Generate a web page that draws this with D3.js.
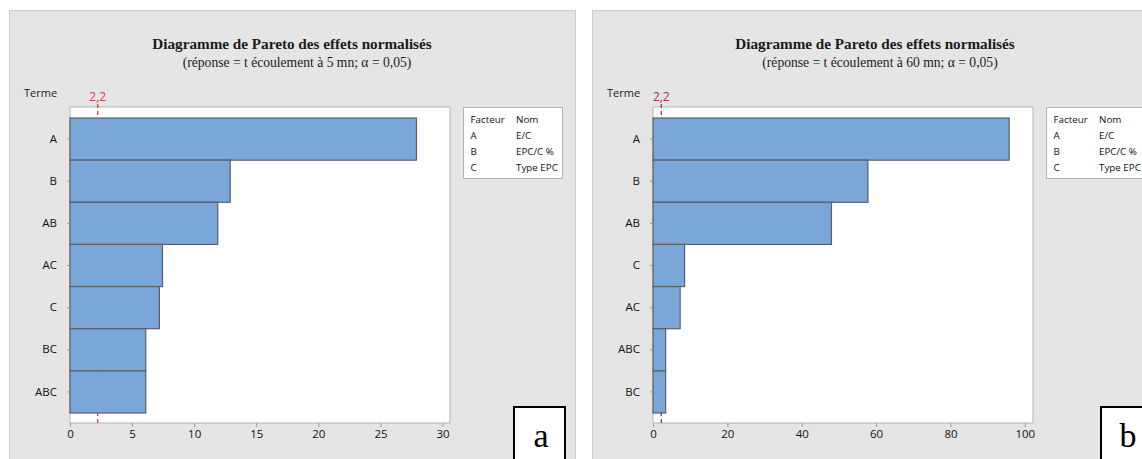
<!DOCTYPE html>
<html>
<head>
<meta charset="utf-8">
<title>Diagramme de Pareto des effets normalisés</title>
<script src="https://d3js.org/d3.v7.min.js"></script>
<style>
  body { margin: 0; background: #fff; }
  svg { display: block; }
</style>
</head>
<body>
<svg width="1142" height="459"></svg>
<script>
const termsA = ["A", "B", "AB", "AC", "C", "BC", "ABC"];
const effectsA = [27.9, 12.9, 11.9, 7.45, 7.2, 6.1, 6.1];
const ticksA = [0, 5, 10, 15, 20, 25, 30];

const termsB = ["A", "B", "AB", "C", "AC", "ABC", "BC"];
const effectsB = [95.8, 57.8, 48.0, 8.5, 7.3, 3.4, 3.4];
const ticksB = [0, 20, 40, 60, 80, 100];

const critical = 2.23;
const criticalLabel = "2,2";

const factorCodes = ["A", "B", "C"];
const factorNames = ["E/C", "EPC/C %", "Type EPC"];

const title = "Diagramme de Pareto des effets normalisés";
const subtitles = [
  "(réponse = t écoulement à 5 mn; α = 0,05)",
  "(réponse = t écoulement à 60 mn; α = 0,05)"
];
const letters = ["a", "b"];

const svg = d3.select("svg");
const sans = "'Open Sans', 'Noto Sans', sans-serif";
const serif = "'Liberation Serif', 'DejaVu Serif', serif";

const panels = [
  { dx: 0, terms: termsA, values: effectsA, ticks: ticksA, max: 30.6, refColor: "#d8403f", boxX: 514 },
  { dx: 583, terms: termsB, values: effectsB, ticks: ticksB, max: 102.2, refColor: "#a8323a", boxX: 1101 - 583 }
];

const frame = { left: 70, top: 107, width: 380, height: 316 };

panels.forEach((p, i) => {
  const g = svg.append("g").attr("transform", `translate(${p.dx},0)`);

  // fond gris du panneau
  g.append("rect")
    .attr("x", 9.5).attr("y", 10.5)
    .attr("width", 566).attr("height", 460)
    .attr("fill", "#e5e5e5")
    .attr("stroke", "#cdcdcd");

  // titres
  g.append("text")
    .attr("x", 292).attr("y", 49)
    .attr("text-anchor", "middle")
    .attr("font-family", serif)
    .attr("font-weight", "bold")
    .attr("font-size", 15.2)
    .attr("fill", "#1a1a1a")
    .text(title);

  g.append("text")
    .attr("x", 297).attr("y", 66.5)
    .attr("text-anchor", "middle")
    .attr("font-family", serif)
    .attr("font-size", 13.6)
    .attr("fill", "#1a1a1a")
    .text(subtitles[i]);

  g.append("text")
    .attr("x", 24).attr("y", 97)
    .attr("font-family", sans)
    .attr("font-size", 11)
    .attr("fill", "#1a1a1a")
    .text("Terme");

  const plot = g.append("g").attr("transform", `translate(${frame.left},${frame.top})`);

  const x = d3.scaleLinear().domain([0, p.max]).range([0, frame.width]);
  const y = d3.scaleBand().domain(p.terms).range([11, 306]).paddingInner(0);

  plot.append("rect")
    .attr("width", frame.width).attr("height", frame.height)
    .attr("fill", "#fff")
    .attr("stroke", "#b4b4b4");

  // ligne de référence (derrière les barres)
  plot.append("line")
    .attr("x1", x(critical)).attr("x2", x(critical))
    .attr("y1", -3).attr("y2", frame.height)
    .attr("stroke", p.refColor)
    .attr("stroke-width", 1.3)
    .attr("stroke-dasharray", "4,3");

  plot.append("text")
    .attr("x", x(critical)).attr("y", -6.5)
    .attr("text-anchor", "middle")
    .attr("font-family", sans)
    .attr("font-size", 12)
    .attr("fill", p.refColor)
    .text(criticalLabel);

  plot.selectAll("rect.bar")
    .data(p.terms)
    .join("rect")
    .attr("class", "bar")
    .attr("x", x(0))
    .attr("y", d => y(d))
    .attr("width", (d, j) => x(p.values[j]) - x(0))
    .attr("height", y.bandwidth())
    .attr("fill", "#7ba6d8")
    .attr("stroke", "#5a5f66")
    .attr("stroke-width", 1.2);

  // axes
  const xAxis = plot.append("g")
    .attr("transform", `translate(0,${frame.height})`)
    .call(d3.axisBottom(x).tickValues(p.ticks).tickSize(4).tickPadding(3));
  const yAxis = plot.append("g")
    .call(d3.axisLeft(y).tickSize(3).tickPadding(10));

  [xAxis, yAxis].forEach(a => {
    a.select(".domain").remove();
    a.selectAll(".tick line").attr("stroke", "#999");
    a.selectAll(".tick text")
      .attr("font-family", sans)
      .attr("font-size", 11.5)
      .attr("fill", "#111");
  });

  // légende des facteurs
  const leg = g.append("g").attr("transform", "translate(463,107)");
  leg.append("rect")
    .attr("x", 0.5).attr("y", 0.5)
    .attr("width", 99).attr("height", 71)
    .attr("fill", "#fff")
    .attr("stroke", "#b4b4b4");

  const rows = [["Facteur", "Nom"]].concat(factorCodes.map((c, j) => [c, factorNames[j]]));
  rows.forEach((r, j) => {
    const ty = 15.5 + j * 16.3;
    leg.append("text").attr("x", 7.5).attr("y", ty)
      .attr("font-family", sans).attr("font-size", 9.8).attr("fill", "#111")
      .text(r[0]);
    leg.append("text").attr("x", 53).attr("y", ty)
      .attr("font-family", sans).attr("font-size", 9.8).attr("fill", "#111")
      .text(r[1]);
  });

  // étiquette a / b
  g.append("rect")
    .attr("x", p.boxX).attr("y", 407)
    .attr("width", 51).attr("height", 60)
    .attr("fill", "#fff")
    .attr("stroke", "#000")
    .attr("stroke-width", 2);

  g.append("text")
    .attr("x", p.boxX + 27).attr("y", 447)
    .attr("text-anchor", "middle")
    .attr("font-family", serif)
    .attr("font-size", 34)
    .attr("fill", "#000")
    .text(letters[i]);
});
</script>
</body>
</html>
